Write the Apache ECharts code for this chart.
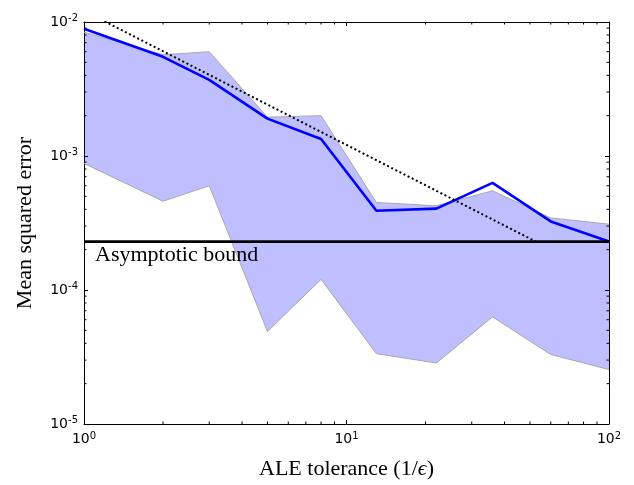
<!DOCTYPE html>
<html>
<head>
<meta charset="utf-8">
<script src="https://cdn.jsdelivr.net/npm/echarts@6/dist/echarts.min.js"></script>
<style>
html,body{margin:0;padding:0;background:#fff}
#main{width:634px;height:485px}
</style>
</head>
<body>
<div id="main"></div>
<script>
// data
let tolerance=[1,2,3,5,8,13,22,36,60,100]
let mseMean=[8.9e-3,5.5e-3,3.7e-3,1.9e-3,1.34e-3,3.9e-4,4.05e-4,6.3e-4,3.25e-4,2.3e-4]
let mseHigh=[8.4e-3,5.7e-3,6.0e-3,1.95e-3,2.0e-3,4.5e-4,4.25e-4,5.5e-4,3.45e-4,3.1e-4]
let mseLow=[8.8e-4,4.6e-4,6.0e-4,4.9e-5,1.2e-4,3.35e-5,2.85e-5,6.3e-5,3.3e-5,2.55e-5]
let slopeX=[1,52.6]
let slopeY=[1.21e-2,2.3e-4]
let boundX=[1,100]
let boundY=[2.3e-4,2.3e-4]
let boundText='Asymptotic bound'
let minorX=[2,3,4,5,6,7,8,9,20,30,40,50,60,70,80,90]
let minorY=[2e-5,3e-5,4e-5,5e-5,6e-5,7e-5,8e-5,9e-5,2e-4,3e-4,4e-4,5e-4,6e-4,7e-4,8e-4,9e-4,2e-3,3e-3,4e-3,5e-3,6e-3,7e-3,8e-3,9e-3]

let serif='"Liberation Serif","Times New Roman",serif'
let sans='"DejaVu Sans",sans-serif'

function powLabel(v){
    let e=Math.round(Math.log10(v))
    return '{b|10}{s|'+e+'}'
}
let richPow={
    b:{fontSize:14,fontFamily:sans,color:'#000'},
    s:{fontSize:10,fontFamily:sans,color:'#000',padding:[0,0,7,0]}
}

function pairs(xs,ys){
    let out=[]
    for(let i=0;i<xs.length;i++) out.push([xs[i],ys[i]])
    return out
}

let myChart=echarts.init(document.getElementById('main'))

let axisLine={show:true,onZero:false,lineStyle:{color:'#000',width:1}}
let axisTick={show:true,inside:true,length:4,lineStyle:{color:'#000',width:1}}

let option={
    animation:false,
    backgroundColor:'#fff',
    grid:{left:84,top:22,right:25,bottom:58},
    xAxis:[{
        type:'log',logBase:10,min:1,max:100,position:'bottom',
        axisLine:axisLine,axisTick:axisTick,splitLine:{show:false},
        axisLabel:{formatter:powLabel,rich:richPow,margin:7},
        name:'ALE tolerance (1/{e|ϵ})',nameLocation:'middle',nameGap:34,
        nameTextStyle:{fontFamily:serif,fontSize:22,color:'#000',
            rich:{e:{fontFamily:serif,fontSize:22,fontStyle:'italic',color:'#000'}}}
    },{
        type:'log',logBase:10,min:1,max:100,position:'top',
        axisLine:axisLine,axisTick:axisTick,splitLine:{show:false},axisLabel:{show:false}
    }],
    yAxis:[{
        type:'log',logBase:10,min:1e-5,max:1e-2,position:'left',
        axisLine:axisLine,axisTick:axisTick,splitLine:{show:false},
        axisLabel:{formatter:powLabel,rich:richPow,margin:6},
        name:'Mean squared error',nameLocation:'middle',nameGap:48,
        nameTextStyle:{fontFamily:serif,fontSize:22,color:'#000'}
    },{
        type:'log',logBase:10,min:1e-5,max:1e-2,position:'right',
        axisLine:axisLine,axisTick:axisTick,splitLine:{show:false},axisLabel:{show:false}
    }],
    series:[
    {
        // shaded band between low and high
        type:'custom',
        silent:true,
        data:[[1,1e-3]],
        renderItem:function(params,api){
            let top=[],bot=[]
            for(let i=0;i<tolerance.length;i++){
                top.push(api.coord([tolerance[i],mseHigh[i]]))
                bot.push(api.coord([tolerance[i],mseLow[i]]))
            }
            let poly=top.concat(bot.slice().reverse())
            return {type:'group',children:[
                {type:'polygon',shape:{points:poly},style:{fill:'rgba(0,0,255,0.25)',stroke:null}},
                {type:'polyline',shape:{points:top},style:{fill:null,stroke:'#a9a9a9',lineWidth:1}},
                {type:'polyline',shape:{points:bot},style:{fill:null,stroke:'#a9a9a9',lineWidth:1}}
            ]}
        }
    },
    {
        name:'mean',
        type:'line',
        data:pairs(tolerance,mseMean),
        symbol:'none',
        lineStyle:{color:'#0000ff',width:2.6},
        z:3
    },
    {
        name:'slope',
        type:'line',
        data:pairs(slopeX,slopeY),
        symbol:'none',
        clip:true,
        lineStyle:{color:'#000',width:2,type:[2,2.6]},
        z:4
    },
    {
        name:'bound',
        type:'line',
        data:pairs(boundX,boundY),
        symbol:'none',
        lineStyle:{color:'#000',width:2.8},
        z:5
    },
    {
        // bound label under the line, at its left end
        type:'custom',
        silent:true,
        data:[[boundX[0],boundY[0]]],
        renderItem:function(params,api){
            let p=api.coord([api.value(0),api.value(1)])
            return {type:'text',x:p[0]+11,y:p[1]+3,style:{
                text:boundText,fontFamily:serif,fontSize:22,fill:'#000',
                textAlign:'left',textVerticalAlign:'top'}}
        },
        z:6
    },
    {
        // minor ticks on x
        type:'custom',
        silent:true,
        data:minorX.map(v=>[v,1e-3]),
        renderItem:function(params,api){
            let cs=params.coordSys
            let x=api.coord([api.value(0),1e-3])[0]
            let st={stroke:'#000',lineWidth:1}
            return {type:'group',children:[
                {type:'line',shape:{x1:x,y1:cs.y+cs.height,x2:x,y2:cs.y+cs.height-2.5},style:st},
                {type:'line',shape:{x1:x,y1:cs.y,x2:x,y2:cs.y+2.5},style:st}
            ]}
        },
        z:6
    },
    {
        // minor ticks on y
        type:'custom',
        silent:true,
        data:minorY.map(v=>[10,v]),
        renderItem:function(params,api){
            let cs=params.coordSys
            let y=api.coord([10,api.value(1)])[1]
            let st={stroke:'#000',lineWidth:1}
            return {type:'group',children:[
                {type:'line',shape:{x1:cs.x,y1:y,x2:cs.x+2.5,y2:y},style:st},
                {type:'line',shape:{x1:cs.x+cs.width,y1:y,x2:cs.x+cs.width-2.5,y2:y},style:st}
            ]}
        },
        z:6
    }
    ]
}

myChart.setOption(option)
</script>
</body>
</html>
